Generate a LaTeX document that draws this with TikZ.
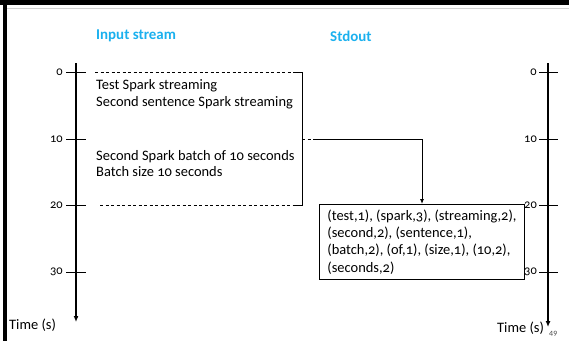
\documentclass[tikz,border=0pt]{standalone}
\usepackage{fontspec}
\setmainfont{Carlito}[Numbers=OldStyle]
\usetikzlibrary{arrows.meta}
\definecolor{hdr}{HTML}{1AB0EE}
\begin{document}
\begin{tikzpicture}[x=1bp,y=-1bp,
  axis/.style={line width=2bp,-{Latex[length=6bp,width=5bp]}},
  tick/.style={line width=1bp},
  ticklab/.style={anchor=east,font=\fontsize{12.5}{14}\selectfont,inner sep=0pt},
  hdrlab/.style={anchor=west,font=\fontsize{15}{17}\selectfont\bfseries,text=hdr,inner sep=0pt},
  body/.style={anchor=west,font=\fontsize{14.5}{17}\selectfont,inner sep=0pt,align=left},
  timelab/.style={anchor=west,font=\fontsize{14.5}{16}\selectfont,inner sep=0pt},
  dashline/.style={dashed,dash pattern=on 3bp off 2.5bp,line width=0.8bp},
  conn/.style={line width=0.9bp}]
\useasboundingbox (0,0) rectangle (569,341);
% frame
\fill[black] (0,0) rectangle (569,4.5);
\fill[black] (3,0) rectangle (7,341);
\draw[gray!35,line width=1.3bp] (7,8.3) -- (569,8.3);
% headers
\node[hdrlab] (hin) at (96,36) {Input stream};
\node[hdrlab] (hout) at (330,36) {Stdout};
% left axis
\coordinate (la0) at (76,63);
\coordinate (la1) at (76,322);
\draw[axis] (la0) -- (la1);
\foreach \v/\y in {0/72,10/139,20/205,30/272}{
  \draw[tick] (66,\y) -- (86,\y);
  \node[ticklab] (ll\v) at (63,\y) {\v};
}
\node[timelab] (lt) at (9,325) {Time (s)};
% right axis
\coordinate (ra0) at (548,63);
\coordinate (ra1) at (548,327);
\draw[axis] (ra0) -- (ra1);
\foreach \v/\y in {0/72,10/139,20/205,30/272}{
  \draw[tick] (539,\y) -- (558,\y);
  \node[ticklab] (rl\v) at (537,\y) {\v};
}
\node[timelab] (rt) at (497,328) {Time (s)};
\node[anchor=west,font=\fontsize{8}{9}\selectfont,inner sep=0pt,text=black!70] (pg) at (549,334) {49};
% input lines
\node[body] (t1) at (96,94.5) {Test Spark streaming\\Second sentence Spark streaming};
\node[body] (t2) at (96,163.5) {Second Spark batch of 10 seconds\\Batch size 10 seconds};
% dashed window and bracket
\coordinate (wt0) at (95,72);
\coordinate (wt1) at (296,72);
\coordinate (wb0) at (100,205);
\coordinate (wb1) at (296,205);
\coordinate (bt) at (302,72);
\coordinate (bb) at (302,205);
\coordinate (bm) at (302,139);
\coordinate (bm2) at (313,139);
\coordinate (corner) at (422,139);
\draw[dashline] (wt0) -- (wt1);
\draw[dashline] (wb0) -- (wb1);
\draw[conn] (wt1) -- (bt) -- (bb) -- (wb1);
\draw[dashline] (bm) -- (bm2);
% output box
\node[draw,line width=0.9bp,anchor=north west,minimum width=205bp,minimum height=75bp,
  inner xsep=5bp,inner ysep=3bp,align=left,font=\fontsize{14.5}{17.5}\selectfont] (out) at (319,204)
  {(test,1), (spark,3), (streaming,2),\\(second,2), (sentence,1),\\(batch,2), (of,1), (size,1), (10,2),\\(seconds,2)};
\draw[conn,-{Latex[length=5bp,width=4bp]}] (bm2) -- (corner) -- (corner |- out.north);
\end{tikzpicture}
\end{document}
